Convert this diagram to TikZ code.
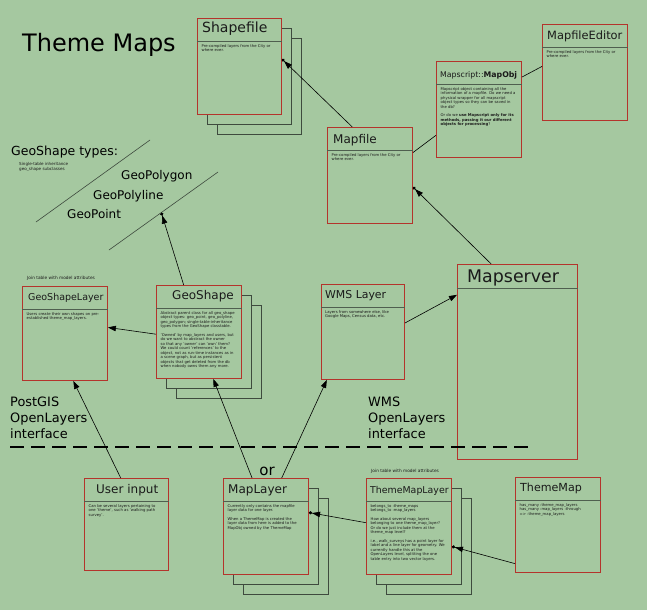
\documentclass[tikz,border=0pt]{standalone}
\usepackage{fontspec}
\setmainfont{DejaVu Sans}
\usepackage{tikz}
\usetikzlibrary{arrows.meta, shadows}

\definecolor{bg}{HTML}{A5C8A0}
\definecolor{boxred}{HTML}{B4342C}
\definecolor{shadowline}{HTML}{3E4A3E}
\definecolor{divline}{HTML}{4F5F4F}
\definecolor{textcol}{HTML}{1A1A1A}

\begin{document}
\begin{tikzpicture}[
	    x=1pt, y=-1pt,
	    cls/.style={draw=boxred, fill=bg, line width=0.9pt, anchor=north west, inner sep=0pt},
	    stack/.style={
	        general shadow={shadow xshift=20pt, shadow yshift=-20pt, fill=bg, draw=shadowline, line width=0.8pt},
	        general shadow={shadow xshift=10pt, shadow yshift=-10pt, fill=bg, draw=shadowline, line width=0.8pt}},
	    ttl/.style={anchor=base west, inner sep=0pt, text=textcol, font=\fontsize{12}{14}\selectfont},
	    txt/.style={anchor=north west, inner sep=0pt, align=left, text=textcol, font=\fontsize{3.8}{4.5}\selectfont},
	    note/.style={anchor=base west, inner sep=0pt, text=textcol, font=\fontsize{4.3}{5}\selectfont},
	    big/.style={anchor=base west, inner sep=0pt, text=black, font=\fontsize{12.5}{16}\selectfont},
	    divider/.style={draw=divline, line width=0.7pt},
	    link/.style={line width=0.6pt},
	    arrow/.style={-{Triangle[length=8pt,width=5.5pt]}, line width=0.6pt},
	    assoc/.style={-{Triangle[length=8pt,width=5.5pt] Circle[length=3.2pt]}, line width=0.6pt}
	]
		\useasboundingbox[fill=bg] (0,0) rectangle (647,610);

		% title and geo shape types
		\node[anchor=base west, inner sep=0pt, font=\fontsize{24}{28}\selectfont] (title) at (22,52) {Theme Maps};
		\node[big] (types) at (11,155) {GeoShape types:};
		\node[note, anchor=north west, align=left, font=\fontsize{4.1}{5}\selectfont] (typesnote) at (19,162) {Single-table inheritance\\geo\_shape subclasses};
		\node[big, font=\fontsize{12}{14}\selectfont] (polygon) at (121,179) {GeoPolygon};
		\node[big, font=\fontsize{12}{14}\selectfont] (polyline) at (93,199) {GeoPolyline};
		\node[big, font=\fontsize{12}{14}\selectfont] (point) at (67,218) {GeoPoint};
		\coordinate (sep1a) at (36,222);
		\coordinate (sep1b) at (150,140);
		\coordinate (sep2a) at (109,250);
		\coordinate (sep2b) at (218,172);
		\draw[link, shadowline] (sep1a) -- (sep1b);
		\draw[link, shadowline] (sep2a) -- (sep2b);
		\path (sep2a) -- (sep2b) coordinate[pos=0.48] (typehit);

		% class boxes
		\node[cls, stack, minimum width=84pt, minimum height=96pt] (shapefile) at (197,18) {};
		\node[cls, minimum width=85pt, minimum height=96pt] (mapfile) at (327,127) {};
		\node[cls, minimum width=85pt, minimum height=96pt] (mapobj) at (436,61) {};
		\node[cls, minimum width=85pt, minimum height=96pt] (editor) at (542,24) {};
		\node[cls, minimum width=120pt, minimum height=195pt] (mapserver) at (457,264) {};
		\node[cls, minimum width=85pt, minimum height=94pt] (geoshapelayer) at (22,286) {};
		\node[cls, stack, minimum width=85pt, minimum height=93pt] (geoshape) at (156,285) {};
		\node[cls, minimum width=83pt, minimum height=95pt] (wms) at (321,284) {};
		\node[cls, minimum width=84pt, minimum height=92pt] (userinput) at (84,478) {};
		\node[cls, stack, minimum width=85pt, minimum height=96pt] (maplayer) at (223,478) {};
		\node[cls, stack, minimum width=85pt, minimum height=96pt] (thememaplayer) at (366,478) {};
		\node[cls, minimum width=85pt, minimum height=95pt] (thememap) at (515,477) {};

		\foreach \b in {shapefile, mapfile, mapobj, editor, geoshapelayer, geoshape, wms, userinput, maplayer, thememaplayer, thememap}
			\draw[divider] ([yshift=-23pt]\b.north west) -- ([yshift=-23pt]\b.north east);
		\draw[divider] ([yshift=-24pt]mapserver.north west) -- ([yshift=-24pt]mapserver.north east);

		% titles
		\node[ttl, font=\fontsize{14}{16}\selectfont] (shapefile-t) at ([shift={(5pt,-15pt)}]shapefile.north west) {Shapefile};
		\node[ttl] (mapfile-t) at ([shift={(6pt,-16pt)}]mapfile.north west) {Mapfile};
		\node[ttl, font=\fontsize{7.8}{9}\selectfont] (mapobj-t) at ([shift={(4pt,-16pt)}]mapobj.north west) {Mapscript::\textbf{MapObj}};
		\node[ttl, font=\fontsize{11.4}{13}\selectfont] (editor-t) at ([shift={(5pt,-16pt)}]editor.north west) {MapfileEditor};
		\node[ttl, font=\fontsize{17.4}{20}\selectfont] (mapserver-t) at ([shift={(10pt,-18pt)}]mapserver.north west) {Mapserver};
		\node[ttl, font=\fontsize{9.5}{11}\selectfont] (geoshapelayer-t) at ([shift={(6pt,-14pt)}]geoshapelayer.north west) {GeoShapeLayer};
		\node[ttl] (geoshape-t) at ([shift={(16pt,-14pt)}]geoshape.north west) {GeoShape};
		\node[ttl, font=\fontsize{10.9}{13}\selectfont] (wms-t) at ([shift={(4pt,-14pt)}]wms.north west) {WMS Layer};
		\node[ttl] (userinput-t) at ([shift={(12pt,-15pt)}]userinput.north west) {User input};
		\node[ttl] (maplayer-t) at ([shift={(5pt,-15pt)}]maplayer.north west) {MapLayer};
		\node[ttl, font=\fontsize{9.4}{11}\selectfont] (thememaplayer-t) at ([shift={(4pt,-15pt)}]thememaplayer.north west) {ThemeMapLayer};
		\node[ttl, font=\fontsize{11.1}{13}\selectfont] (thememap-t) at ([shift={(5pt,-14pt)}]thememap.north west) {ThemeMap};

		% notes
		\node[txt] (shapefile-n) at ([shift={(4.5pt,-26pt)}]shapefile.north west) {Pre-compiled layers from the City or\\where ever.};
		\node[txt] (mapfile-n) at ([shift={(4.5pt,-26pt)}]mapfile.north west) {Pre-compiled layers from the City or\\where ever.};
		\node[txt] (editor-n) at ([shift={(4.5pt,-26pt)}]editor.north west) {Pre-compiled layers from the City or\\where ever.};
		\node[txt] (mapobj-n) at ([shift={(4.5pt,-26pt)}]mapobj.north west) {Mapscript object containing all the\\information of a mapfile. Do we need a\\physical wrapper for all mapscript\\object types so they can be saved in\\the db?\\[4pt]Or do we \textbf{use Mapscript only for its}\\\textbf{methods, passing it our different}\\\textbf{objects for processing}?};
		\node[txt] (geoshapelayer-n) at ([shift={(4.5pt,-26pt)}]geoshapelayer.north west) {Users create their own shapes on pre-\\established theme\_map\_layers.};
		\node[txt] (geoshape-n) at ([shift={(4.5pt,-26pt)}]geoshape.north west) {Abstract parent class for all geo\_shape\\object types: geo\_point, geo\_polyline,\\geo\_polygon; single-table-inheritance\\types from the GeoShape classtable.\\[4pt]'Owned' by map\_layers and users, but\\do we want to abstract the owner\\so that any 'owner' can 'own' them?\\We could count 'references' to the\\object, not as run-time instances as in\\a scene graph, but as persistent\\objects that get deleted from the db\\when nobody owns them any more.};
		\node[txt] (wms-n) at ([shift={(4pt,-26pt)}]wms.north west) {Layers from somewhere else, like\\Google Maps, Census data, etc.};
		\node[txt] (userinput-n) at ([shift={(4.5pt,-26pt)}]userinput.north west) {Can be several layers pertaining to\\one 'theme', such as 'walking path\\survey'.};
		\node[txt] (maplayer-n) at ([shift={(4.5pt,-26pt)}]maplayer.north west) {Currently only contains the mapfile\\layer data for one layer.\\[4pt]When a ThemeMap is created the\\layer data from here is added to the\\MapObj owned by the ThemeMap};
		\node[txt] (thememaplayer-n) at ([shift={(4.5pt,-26pt)}]thememaplayer.north west) {belongs\_to :theme\_maps\\belongs\_to :map\_layers\\[4pt]How about several map\_layers\\belonging to one theme\_map\_layer?\\Or do we just include them at the\\theme\_map level?\\[4pt]i.e., walk\_surveys has a point layer for\\label and a line layer for geometry. We\\currently handle this at the\\OpenLayers level, splitting the one\\table entry into two vector layers.};
		\node[txt] (thememap-n) at ([shift={(4.5pt,-26pt)}]thememap.north west) {has\_many :theme\_map\_layers\\has\_many :map\_layers :through\\=> :theme\_map\_layers};

		\node[note] (join1) at (27,279) {Join table with model attributes};
		\node[note] (join2) at (371,472) {Join table with model attributes};

		% interfaces
		\node[big, anchor=north west, align=left, font=\fontsize{12.9}{16}\selectfont] (postgis) at (10,397) {PostGIS\\OpenLayers\\interface};
		\node[big, anchor=north west, align=left, font=\fontsize{12.9}{16}\selectfont] (wmsif) at (368,397) {WMS\\OpenLayers\\interface};
		\draw[black, line width=1.8pt, dash pattern=on 14pt off 7pt] (10,447) -- (532,447);
		\node[anchor=base, inner sep=0pt, font=\fontsize{15}{18}\selectfont] (or) at (267,475) {or};

		% connectors
		\draw[assoc] (mapfile.110) -- (shapefile.10);
		\draw[link] (mapfile.28) -- (mapobj.211);
		\draw[link] (mapobj.37) -- (editor.172);
		\draw[assoc] (mapserver.105) -- (mapfile.-15);
		\draw[arrow] (wms.12) -- (mapserver.132);
		\draw[assoc] (geoshape.108) -- (typehit);
		\draw[arrow] (geoshape.183) -- (geoshapelayer.8);
		\draw[arrow] (userinput.97) -- (geoshapelayer.-80);
		\draw[arrow] (maplayer.106) -- (geoshape.-73);
		\draw[arrow] (maplayer.72) -- (wms.-127);
		\draw[assoc] (thememaplayer.175) -- (maplayer.18);
		\draw[assoc] (thememap.222) -- (thememaplayer.-25);
	\end{tikzpicture}
\end{document}
